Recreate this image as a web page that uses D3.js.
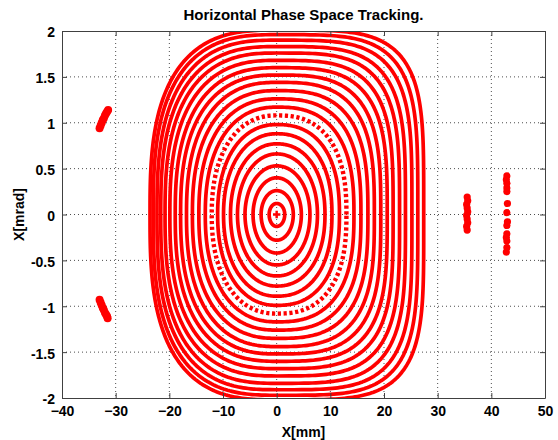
<!DOCTYPE html>
<html>
<head>
<meta charset="utf-8">
<script src="https://cdn.jsdelivr.net/npm/d3@7"></script>
<style>
  html, body { margin: 0; padding: 0; background: #fff; }
  svg { display: block; }
  text { font-family: "Liberation Sans", Arial, Helvetica, sans-serif; font-weight: bold; fill: #000; }
</style>
</head>
<body>
<svg id="chart" width="558" height="440"></svg>
<script>
// Axis ticks
const xTicks = [-40, -30, -20, -10, 0, 10, 20, 30, 40, 50];
const yTicks = [-2, -1.5, -1, -0.5, 0, 0.5, 1, 1.5, 2];

// Invariant rings of the tracked particles (extent on each side of the origin)
const ringRight  = [1.5, 3.1, 4.6, 6.2, 7.6, 9.0, 10.3, 11.7, 13.0, 14.4, 15.7, 17.0, 18.2, 19.4, 20.6, 21.7, 22.9, 24.0, 25.2, 26.3, 27.4];
const ringLeft   = [-1.4, -2.9, -4.4, -5.9, -7.3, -8.6, -9.9, -11.0, -12.1, -13.3, -14.5, -15.7, -16.8, -17.9, -18.9, -19.9, -20.8, -21.6, -22.3, -23.0, -23.6];
const ringTop    = [0.12, 0.26, 0.40, 0.53, 0.66, 0.77, 0.88, 0.98, 1.08, 1.17, 1.26, 1.35, 1.44, 1.52, 1.60, 1.68, 1.76, 1.83, 1.90, 1.96, 2.01];
const ringBottom = [-0.13, -0.28, -0.42, -0.55, -0.67, -0.78, -0.89, -0.99, -1.08, -1.17, -1.26, -1.35, -1.44, -1.52, -1.60, -1.68, -1.76, -1.84, -1.91, -1.97, -2.02];
// Squareness of each ring (2 = ellipse), left and right halves
const ringShapeLeft  = [2.0, 2.0, 2.0, 2.0, 2.05, 2.1, 2.15, 2.2, 2.25, 2.3, 2.35, 2.4, 2.45, 2.5, 2.55, 2.6, 2.65, 2.7, 2.75, 2.8, 2.85];
const ringShapeRight = [2.0, 2.0, 2.0, 2.05, 2.1, 2.2, 2.3, 2.4, 2.5, 2.6, 2.75, 2.9, 3.05, 3.2, 3.35, 3.5, 3.65, 3.8, 3.95, 4.1, 4.3];
// Rings traced by few turns (broken into separate dots)
const sparseRings = [8];

// Fixed point at the origin
const centerPoint = [[0, 0]];

// Resonance islands outside the stable region
const islandLeftTop    = [[-33.0, 0.94], [-32.8, 0.97], [-32.6, 1.00], [-32.4, 1.03], [-32.2, 1.05], [-32.0, 1.08], [-31.8, 1.10], [-31.6, 1.12], [-31.4, 1.14]];
const islandLeftBottom = [[-33.0, -0.93], [-32.8, -0.96], [-32.6, -0.99], [-32.4, -1.02], [-32.2, -1.04], [-32.0, -1.07], [-31.8, -1.09], [-31.6, -1.11], [-31.5, -1.13]];
const islandRightA = [[35.5, 0.19], [35.6, 0.15], [35.4, 0.11], [35.5, 0.07], [35.6, 0.03], [35.4, -0.01], [35.5, -0.05], [35.6, -0.09], [35.4, -0.13], [35.5, -0.17]];
const islandRightB = [[42.9, 0.42], [42.8, 0.38], [42.9, 0.34], [42.9, 0.29], [42.9, 0.25], [43.0, 0.12], [42.9, 0.02], [43.0, -0.08], [42.9, -0.12], [42.9, -0.21], [42.8, -0.25], [42.9, -0.29], [42.9, -0.36], [42.8, -0.41]];

const svg = d3.select("#chart");
const margin = { left: 62, right: 13, top: 31, bottom: 42 };
const W = 558, H = 440;
const x = d3.scaleLinear().domain([-40, 50]).range([margin.left, W - margin.right]);
const y = d3.scaleLinear().domain([-2, 2]).range([H - margin.bottom, margin.top]);
const RED = "#ff0000";

svg.append("defs").append("clipPath").attr("id", "plotClip")
  .append("rect")
  .attr("x", x(-40)).attr("y", y(2))
  .attr("width", x(50) - x(-40)).attr("height", y(-2) - y(2));

// Dotted grid
const grid = svg.append("g").attr("class", "grid");
grid.selectAll("line.gx").data(xTicks.slice(1, -1)).join("line")
  .attr("x1", d => x(d)).attr("x2", d => x(d))
  .attr("y1", y(2)).attr("y2", y(-2))
  .attr("stroke", "#000").attr("stroke-opacity", 0.7)
  .attr("stroke-width", 1).attr("stroke-dasharray", "1,3");
grid.selectAll("line.gy").data(yTicks.slice(1, -1)).join("line")
  .attr("y1", d => y(d)).attr("y2", d => y(d))
  .attr("x1", x(-40)).attr("x2", x(50))
  .attr("stroke", "#000").attr("stroke-opacity", 0.7)
  .attr("stroke-width", 1).attr("stroke-dasharray", "1,3");

// Ring outline: superellipse quadrants, different squareness on each side
function ringPoints(i) {
  const pts = [];
  const N = 360;
  for (let k = 0; k <= N; k++) {
    const t = (k / N) * 2 * Math.PI;
    const c = Math.cos(t), s = Math.sin(t);
    const n = c >= 0 ? ringShapeRight[i] : ringShapeLeft[i];
    const a = c >= 0 ? ringRight[i] : -ringLeft[i];
    const b = s >= 0 ? ringTop[i] : -ringBottom[i];
    const px = Math.sign(c) * a * Math.pow(Math.abs(c), 2 / n);
    const py = Math.sign(s) * b * Math.pow(Math.abs(s), 2 / n);
    pts.push([px, py]);
  }
  return pts;
}

const line = d3.line().x(d => x(d[0])).y(d => y(d[1])).curve(d3.curveLinearClosed);

const plot = svg.append("g").attr("clip-path", "url(#plotClip)");
plot.selectAll("path.ring").data(d3.range(ringRight.length)).join("path")
  .attr("class", "ring")
  .attr("d", i => line(ringPoints(i)))
  .attr("fill", "none")
  .attr("stroke", RED)
  .attr("stroke-width", i => sparseRings.includes(i) ? 4.4 : 3.7)
  .attr("stroke-dasharray", i => sparseRings.includes(i) ? "3.2,2.6" : null)
  .attr("stroke-linejoin", "round");

// Origin marker
plot.selectAll("path.center").data(centerPoint).join("path")
  .attr("d", d3.symbol(d3.symbolCross, 30))
  .attr("transform", d => `translate(${x(d[0])},${y(d[1])})`)
  .attr("fill", RED);

// Islands
const islands = [islandLeftTop, islandLeftBottom, islandRightA, islandRightB];
const islandR = [4.0, 4.0, 3.6, 3.6];
islands.forEach((pts, j) => {
  plot.append("g").selectAll("circle").data(pts).join("circle")
    .attr("cx", d => x(d[0])).attr("cy", d => y(d[1]))
    .attr("r", islandR[j]).attr("fill", RED);
});

// Axes box with inward ticks
const axisColor = "#404040";
const xAxisB = d3.axisBottom(x).tickValues(xTicks).tickSizeInner(-5).tickSizeOuter(0).tickPadding(8).tickFormat(d3.format("d"));
const xAxisT = d3.axisTop(x).tickValues(xTicks).tickSizeInner(-5).tickSizeOuter(0).tickFormat("");
const yAxisL = d3.axisLeft(y).tickValues(yTicks).tickSizeInner(-5).tickSizeOuter(0).tickPadding(7).tickFormat(d => String(d));
const yAxisR = d3.axisRight(y).tickValues(yTicks).tickSizeInner(-5).tickSizeOuter(0).tickFormat("");

function styleAxis(g) {
  g.select(".domain").attr("stroke", axisColor);
  g.selectAll(".tick line").attr("stroke", axisColor);
  g.selectAll("text").attr("font-size", "14px").attr("font-family", "'Liberation Sans', Arial, sans-serif").attr("font-weight", "bold").attr("fill", "#000");
}
svg.append("g").attr("transform", `translate(0,${y(-2)})`).call(xAxisB).call(styleAxis);
svg.append("g").attr("transform", `translate(0,${y(2)})`).call(xAxisT).call(styleAxis);
svg.append("g").attr("transform", `translate(${x(-40)},0)`).call(yAxisL).call(styleAxis)
  .selectAll(".tick text").attr("dy", "0.42em");
svg.append("g").attr("transform", `translate(${x(50)},0)`).call(yAxisR).call(styleAxis);

// Titles
svg.append("text")
  .attr("x", (x(-40) + x(50)) / 2).attr("y", 20)
  .attr("text-anchor", "middle").attr("font-size", "15px")
  .text("Horizontal Phase Space Tracking.");
svg.append("text")
  .attr("x", (x(-40) + x(50)) / 2).attr("y", 437)
  .attr("text-anchor", "middle").attr("font-size", "14px")
  .text("X[mm]");
svg.append("text")
  .attr("transform", `translate(23.5,${(y(-2) + y(2)) / 2}) rotate(-90)`)
  .attr("text-anchor", "middle").attr("font-size", "14px")
  .text("X[mrad]");
</script>
</body>
</html>
